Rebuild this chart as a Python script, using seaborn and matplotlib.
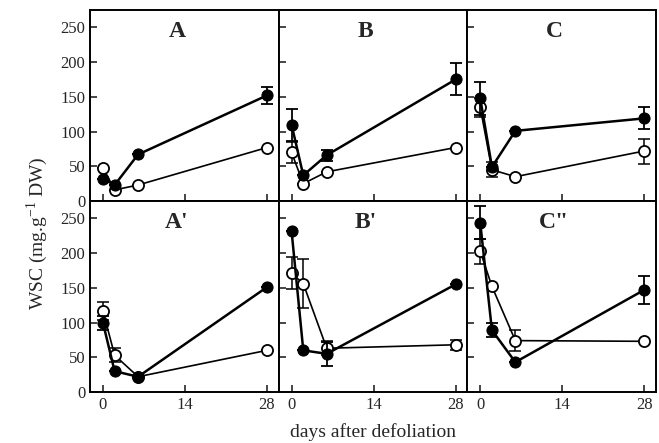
import numpy as np
import pandas as pd
import matplotlib
matplotlib.use('Agg')
import matplotlib.pyplot as plt
import seaborn as sns

# days after defoliation
days = [0, 2, 6, 28]

# panel labels, top row then bottom row
panels = ['A', 'B', 'C', "A'", "B'", 'C"']

# filled circles (mean, error)
filled = {
    'A':   [32, 23, 67, 152],
    'B':   [110, 37, 66, 175],
    'C':   [148, 49, 101, 119],
    "A'":  [100, 30, 22, 151],
    "B'":  [232, 60, 55, 155],
    'C"':  [244, 89, 43, 147],
}
filled_err = {
    'A':   [0, 0, 0, 12],
    'B':   [23, 0, 8, 23],
    'C':   [24, 0, 0, 16],
    "A'":  [10, 0, 0, 0],
    "B'":  [0, 0, 17, 0],
    'C"':  [24, 10, 0, 20],
}
# open circles (mean, error)
opened = {
    'A':   [48, 16, 23, 77],
    'B':   [70, 25, 42, 77],
    'C':   [135, 45, 35, 72],
    "A'":  [117, 53, 22, 60],
    "B'":  [171, 156, 63, 68],
    'C"':  [203, 152, 74, 73],
}
opened_err = {
    'A':   [0, 0, 0, 0],
    'B':   [15, 0, 0, 0],
    'C':   [14, 11, 0, 18],
    "A'":  [13, 10, 0, 0],
    "B'":  [23, 35, 10, 7],
    'C"':  [18, 0, 15, 0],
}

sns.set_style('ticks')
plt.rcParams['font.family'] = ['Liberation Serif', 'DejaVu Serif']
plt.rcParams['mathtext.fontset'] = 'custom'
plt.rcParams['mathtext.rm'] = 'Liberation Serif'
plt.rcParams['xtick.direction'] = 'in'
plt.rcParams['ytick.direction'] = 'in'

fig, axes = plt.subplots(2, 3, figsize=(6.59, 4.43), dpi=100, sharex=True, sharey=True)
fig.subplots_adjust(left=0.1366, right=0.9954, top=0.9774, bottom=0.1151, wspace=0, hspace=0)

for ax, name in zip(axes.flat, panels):
    # open series underneath
    ax.errorbar(days, opened[name], yerr=opened_err[name], fmt='none', ecolor='black',
                elinewidth=1.1, capsize=4, capthick=1.1, zorder=2)
    sns.lineplot(x=days, y=opened[name], ax=ax, color='black', lw=1.2, marker='o',
                 markersize=8, markerfacecolor='white', markeredgecolor='black',
                 markeredgewidth=1.3, zorder=3)
    ax.errorbar(days, filled[name], yerr=filled_err[name], fmt='none', ecolor='black',
                elinewidth=1.3, capsize=4, capthick=1.3, zorder=4)
    sns.lineplot(x=days, y=filled[name], ax=ax, color='black', lw=1.8, marker='o',
                 markersize=8, markerfacecolor='black', markeredgecolor='black',
                 zorder=5)
    ax.set_xlim(-2.2, 30)
    ax.set_ylim(0, 275)
    ax.set_xticks([0, 14, 28])
    ax.set_yticks([0, 50, 100, 150, 200, 250])
    ax.tick_params(length=5, width=1.2, labelsize=12, top=False, right=False)
    for s in ax.spines.values():
        s.set_linewidth(1.4)
        s.set_color('black')
    ax.text(0.46, 0.89, name, transform=ax.transAxes, ha='center', va='center',
            fontsize=17, fontweight='bold')
    ax.set_xlabel('')
    ax.set_ylabel('')

for ax in axes[0]:
    ax.tick_params(labelbottom=False)
for ax in axes[1]:
    ax.tick_params(labelbottom=True)
for ax in axes[:, 1:].flat:
    ax.tick_params(labelleft=False)

fig.text(0.057, 0.474, 'WSC (mg.g$^{-1}$ DW)', rotation=90, ha='center', va='center', fontsize=14)
fig.text(0.566, 0.025, 'days after defoliation', ha='center', va='center', fontsize=14)

fig.savefig('out.png', dpi=100)
